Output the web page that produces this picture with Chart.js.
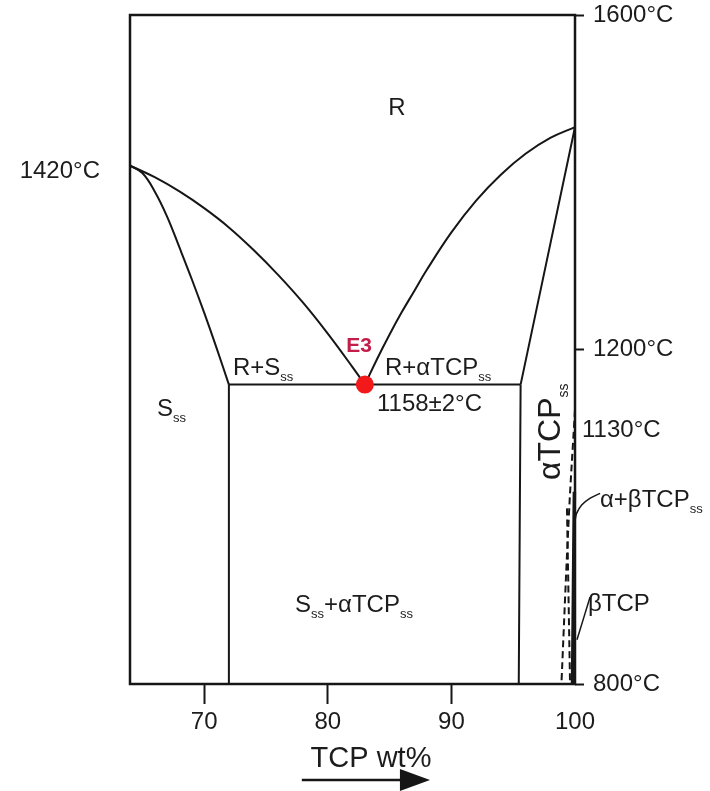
<!DOCTYPE html>
<html>
<head>
<meta charset="utf-8">
<script src="https://cdn.jsdelivr.net/npm/chart.js@4.4.1/dist/chart.umd.min.js"></script>
<style>
  html, body { margin: 0; padding: 0; background: #fff; }
  #wrap { width: 710px; height: 791px; }
</style>
</head>
<body>
<div id="wrap"><canvas id="c" width="710" height="791"></canvas></div>
<script>
// Axis ticks: composition (TCP wt%) and temperature (°C)
const tcpTicks = [70, 80, 90, 100];
const tempTicks = [800, 1200, 1600];

// Phase boundaries as [TCP wt%, temperature °C]
const liquidusLeft = [[64, 1420], [66, 1406], [68, 1389], [70, 1369], [72, 1346], [74, 1319], [76, 1289], [78, 1256], [80, 1219], [82, 1179], [83, 1158]];
const solidusLeft = [[64, 1420], [65, 1411], [66, 1389], [67, 1359], [68, 1322], [69, 1284], [70, 1244], [71, 1202], [72, 1158]];
const liquidusRight = [[83, 1158], [84, 1189], [85, 1218], [86, 1245], [87, 1270], [88, 1295], [90, 1340], [92, 1378], [94, 1409], [96, 1434], [98, 1453], [100, 1466]];
const solidusRight = [[95.6, 1158], [100, 1466]];
const eutecticLine = [[72, 1158], [95.6, 1158]];
const sssLimit = [[72, 1158], [72, 800]];
const alphaLimit = [[95.6, 1158], [95.45, 800]];
const alphaBetaOuter = [[100, 1128], [99.5, 1000], [98.9, 800]];
const alphaBetaInner = [[99.35, 1010], [99.6, 800]];
const betaTcp = [[99.95, 1030], [99.8, 800]];
const leaderAlphaBeta = [[102.03, 1028], [101.2, 1022], [100.54, 1014], [100.13, 1004], [100, 995]];
const leaderBeta = [[101.22, 904], [100.16, 853]];
const eutecticPoint = [[83, 1158]];

const FONT = '"Liberation Sans", Arial, Helvetica, sans-serif';
const INK = '#161616';

const pts = arr => arr.map(([x, y]) => ({ x, y }));

function line(data, extra) {
  return Object.assign({
    data: pts(data),
    showLine: true,
    borderColor: INK,
    borderWidth: 2,
    pointRadius: 0,
    fill: false,
    clip: false,
    tension: 0.4
  }, extra || {});
}

// Text with "_{...}" subscripts
function drawRich(ctx, text, x, y, size, align, subSize, subDy) {
  const parts = [];
  const re = /_\{([^}]*)\}/g;
  let last = 0, m;
  while ((m = re.exec(text))) {
    if (m.index > last) parts.push({ t: text.slice(last, m.index), s: false });
    parts.push({ t: m[1], s: true });
    last = re.lastIndex;
  }
  if (last < text.length) parts.push({ t: text.slice(last), s: false });
  const ss = subSize || 13, dy = subDy || 6;
  let w = 0;
  parts.forEach(p => {
    ctx.font = (p.s ? ss : size) + 'px ' + FONT;
    p.w = ctx.measureText(p.t).width;
    w += p.w;
  });
  let cx = align === 'center' ? x - w / 2 : align === 'right' ? x - w : x;
  ctx.textAlign = 'left';
  ctx.textBaseline = 'alphabetic';
  parts.forEach(p => {
    ctx.font = (p.s ? ss : size) + 'px ' + FONT;
    ctx.fillText(p.t, cx, y + (p.s ? dy : 0));
    cx += p.w;
  });
}

// Region and point labels, anchored in data units (baseline positions)
const labels = [
  { text: 'R', x: 85.6, y: 1480, align: 'center' },
  { text: 'R+S_{ss}', x: 72.33, y: 1169.5, align: 'left' },
  { text: 'R+αTCP_{ss}', x: 84.63, y: 1169.5, align: 'left' },
  { text: '1158±2°C', x: 83.98, y: 1127, align: 'left' },
  { text: 'S_{ss}', x: 66.18, y: 1121, align: 'left' },
  { text: 'S_{ss}+αTCP_{ss}', x: 77.35, y: 886.6, align: 'left' },
  { text: '1130°C', x: 100.57, y: 1095.8, align: 'left' },
  { text: 'α+βTCP_{ss}', x: 102.02, y: 1012, align: 'left' },
  { text: 'βTCP', x: 101.05, y: 887.8, align: 'left' },
  { text: '1420°C', x: 61.57, y: 1405, align: 'right' }
];

const phasePlugin = {
  id: 'phaseDiagram',
  beforeDatasetsDraw(chart) {
    const { ctx, chartArea: a } = chart;
    ctx.save();
    ctx.strokeStyle = INK;
    ctx.lineWidth = 2.5;
    ctx.strokeRect(a.left, a.top, a.right - a.left, a.bottom - a.top);
    ctx.restore();
  },
  afterDatasetsDraw(chart) {
    const { ctx } = chart;
    const xs = chart.scales.x, ys = chart.scales.y;
    const px = v => xs.getPixelForValue(v), py = v => ys.getPixelForValue(v);
    ctx.save();
    ctx.fillStyle = '#1c1c1c';
    labels.forEach(l => drawRich(ctx, l.text, px(l.x), py(l.y), 24, l.align));

    // eutectic label
    ctx.fillStyle = '#c41d4a';
    ctx.font = 'bold 21px ' + FONT;
    ctx.textAlign = 'center';
    ctx.textBaseline = 'alphabetic';
    ctx.fillText('E3', px(82.53), py(1197));

    // vertical alpha-TCP solid solution label
    ctx.fillStyle = '#1c1c1c';
    ctx.translate(px(98.79), py(1044));
    ctx.rotate(-Math.PI / 2);
    drawRich(ctx, 'αTCP_{ss}', 0, 0, 32, 'left', 14, 8);
    ctx.setTransform(1, 0, 0, 1, 0, 0);

    // composition axis title and arrow
    drawRich(ctx, 'TCP wt%', px(83.5), py(700.7), 29, 'center');
    const ay = py(685.2), x0 = px(77.9), x1 = px(88.27), xh = px(85.84);
    ctx.strokeStyle = INK;
    ctx.lineWidth = 2.5;
    ctx.beginPath();
    ctx.moveTo(x0, ay);
    ctx.lineTo(xh + 2, ay);
    ctx.stroke();
    ctx.fillStyle = INK;
    ctx.beginPath();
    ctx.moveTo(xh, ay - 11);
    ctx.lineTo(x1, ay);
    ctx.lineTo(xh, ay + 11);
    ctx.closePath();
    ctx.fill();
    ctx.restore();
  }
};

new Chart(document.getElementById('c'), {
  type: 'scatter',
  data: {
    datasets: [
      {
        data: pts(eutecticPoint),
        pointRadius: 9,
        pointHoverRadius: 9,
        backgroundColor: '#f2191b',
        borderWidth: 0,
        clip: false,
        order: -1
      },
      line(liquidusLeft),
      line(solidusLeft),
      line(liquidusRight),
      line(solidusRight),
      line(eutecticLine),
      line(sssLimit),
      line(alphaLimit),
      line(alphaBetaOuter, { borderDash: [7, 4], borderWidth: 2 }),
      line(alphaBetaInner, { borderDash: [7, 4], borderWidth: 2 }),
      line(betaTcp, { borderWidth: 3.5 }),
      line(leaderAlphaBeta, { borderWidth: 1.5 }),
      line(leaderBeta, { borderWidth: 1.5 })
    ]
  },
  options: {
    responsive: false,
    animation: false,
    events: [],
    layout: { padding: { left: 130, top: 15, right: 0, bottom: 0 } },
    plugins: { legend: { display: false }, tooltip: { enabled: false } },
    scales: {
      x: {
        type: 'linear',
        min: 64,
        max: 100,
        position: 'bottom',
        afterBuildTicks: s => { s.ticks = tcpTicks.map(v => ({ value: v })); },
        afterFit: s => { s.height = 107; s.paddingLeft = 0; s.paddingRight = 0; },
        border: { display: false },
        grid: {
          drawOnChartArea: false,
          drawTicks: true,
          tickLength: 20,
          tickWidth: 2,
          tickColor: c => (c.tick && c.tick.value === 100 ? 'rgba(0,0,0,0)' : INK)
        },
        ticks: {
          color: '#1c1c1c',
          padding: 4,
          maxRotation: 0,
          font: { family: FONT, size: 24 },
          callback: v => String(v)
        }
      },
      y: {
        type: 'linear',
        min: 800,
        max: 1600,
        position: 'right',
        afterBuildTicks: s => { s.ticks = tempTicks.map(v => ({ value: v })); },
        afterFit: s => { s.width = 135; s.paddingTop = 0; s.paddingBottom = 0; },
        border: { display: false },
        grid: {
          drawOnChartArea: false,
          drawTicks: true,
          tickLength: 9,
          tickWidth: 2,
          tickColor: INK
        },
        ticks: {
          color: '#1c1c1c',
          padding: 9,
          font: { family: FONT, size: 24 },
          callback: v => v + '°C'
        }
      }
    }
  },
  plugins: [phasePlugin]
});
</script>
</body>
</html>
